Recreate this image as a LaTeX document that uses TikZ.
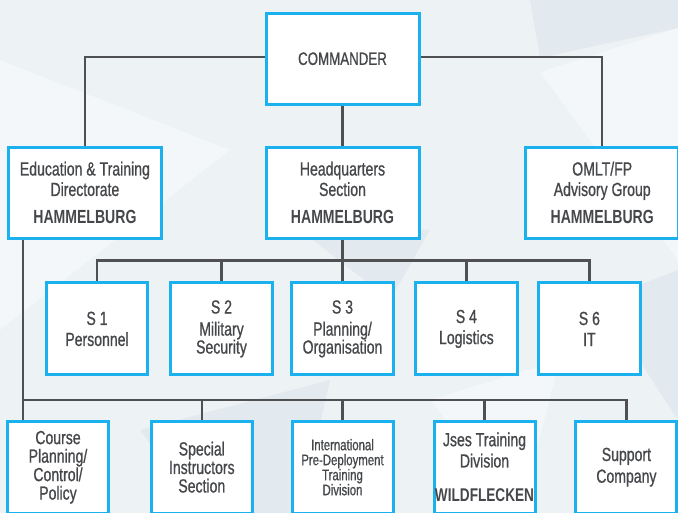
\documentclass[tikz,border=0pt]{standalone}
\usepackage{fontspec}
\setmainfont{Liberation Sans}[FakeStretch=0.74, UprightFeatures={FakeBold=0.8}]
\usetikzlibrary{positioning, backgrounds}
\definecolor{boxblue}{HTML}{1AB1EE}
\definecolor{linegray}{HTML}{4E5052}
\definecolor{txtgray}{HTML}{45474A}
\definecolor{bgbase}{HTML}{EDF2F5}
\definecolor{bglight}{HTML}{F4F7F9}
\definecolor{bgdark}{HTML}{E3EAEF}
\tikzstyle{link} = [draw=linegray, line width=2.4pt]
\tikzstyle{unit} = [rectangle, draw=boxblue, line width=3pt, fill=white, text=txtgray, align=center, inner sep=0pt, font=\fontsize{19}{20.5}\selectfont]
\tikzstyle{bigunit} = [unit, minimum width=153pt, minimum height=91pt]
\tikzstyle{staffunit} = [unit, minimum width=101.5pt, minimum height=92pt, font=\fontsize{19}{18}\selectfont]
\tikzstyle{divunit} = [unit, minimum width=101pt, minimum height=92pt, font=\fontsize{19}{18.5}\selectfont]
\newcommand{\garrison}[1]{\\[7pt]{\bfseries #1}}

\begin{document}
\begin{tikzpicture}
		\useasboundingbox (0,0) rectangle (678pt,-513pt);
		% top level
		\node (cmdr) [bigunit, font=\fontsize{18}{20}\selectfont] at (342.5pt,-58.7pt) {COMMANDER};
		\node (hqs) [bigunit, below=40pt of cmdr] {Headquarters\\Section\garrison{HAMMELBURG}};
		\node (edu) [bigunit, left=101.6pt of hqs] {Education \& Training\\Directorate\garrison{HAMMELBURG}};
		\node (omlt) [bigunit, right=103.7pt of hqs] {OMLT/FP\\Advisory Group\garrison{HAMMELBURG}};
		% staff
		\node (s3) [staffunit, below=41.7pt of hqs] {S 3\\[4pt]Planning/\\Organisation};
		\node (s2) [staffunit, left=16.5pt of s3] {S 2\\[4pt]Military\\Security};
		\node (s1) [staffunit, left=20pt of s2] {S 1\\[3pt]Personnel};
		\node (s4) [staffunit, right=19.4pt of s3] {S 4\\[3pt]Logistics};
		\node (s6) [staffunit, right=18.5pt of s4] {S 6\\[3pt]IT};
		% divisions
		\node (intl) [divunit, below=43.3pt of s3, font=\fontsize{15.4}{15}\selectfont] {International\\Pre-Deployment\\Training\\Division};
		\node (spec) [divunit, left=36.7pt of intl] {Special\\Instructors\\Section};
		\node (course) [divunit, left=39.8pt of spec] {Course\\Planning/\\Control/\\Policy};
		\node (jses) [divunit, right=38pt of intl, font=\fontsize{19}{21.3}\selectfont] {Jses Training\\Division\\[13pt]{\bfseries\fontsize{18.4}{20}\selectfont WILDFLECKEN}};
		\node (supp) [divunit, right=37.9pt of jses, font=\fontsize{19}{21.7}\selectfont] {Support\\Company};
		\begin{scope}[on background layer]
			% backdrop
			\fill[bgbase] (0,0) rectangle (678pt,-513pt);
			\fill[bglight] (0,-60pt) -- (230pt,-150pt) -- (0,-330pt) -- cycle;
			\fill[bgdark] (530pt,0) -- (678pt,0) -- (678pt,-28pt) -- (540pt,-58pt) -- cycle;
			\fill[bglight] (540pt,-72pt) -- (678pt,-28pt) -- (678pt,-260pt) -- cycle;
			\fill[bgdark] (300pt,-230pt) -- (430pt,-230pt) -- (390pt,-300pt) -- cycle;
			\fill[bgdark] (140pt,-430pt) -- (330pt,-380pt) -- (300pt,-513pt) -- (200pt,-513pt) -- cycle;
			\fill[bgdark] (600pt,-300pt) -- (678pt,-270pt) -- (678pt,-420pt) -- cycle;
			\fill[bglight] (430pt,-400pt) -- (560pt,-360pt) -- (520pt,-513pt) -- cycle;
			% links
			\draw[link] ([yshift=1.5pt]cmdr.west) -| (edu.north);
			\draw[link] ([yshift=1.5pt]cmdr.east) -| (omlt.north);
			\draw[link] (cmdr.south) -- (hqs.north);
			\draw[link] (hqs.south) -- ++(0,-21pt) coordinate (sbus);
			\draw[link] (s1.north) |- (sbus) -| (s6.north);
			\foreach \s in {s2,s3,s4}
				\draw[link] (\s.north) -- (\s.north |- sbus);
			\coordinate (trunk) at ([xshift=16pt]edu.south west);
			\coordinate (dbus) at ([yshift=-23.3pt]s3.south);
			\draw[link] (trunk) -- (trunk |- course.north);
			\draw[link] (trunk |- dbus) -| (supp.north);
			\foreach \d in {spec,intl,jses}
				\draw[link] (\d.north) -- (\d.north |- dbus);
		\end{scope}
	\end{tikzpicture}
\end{document}
